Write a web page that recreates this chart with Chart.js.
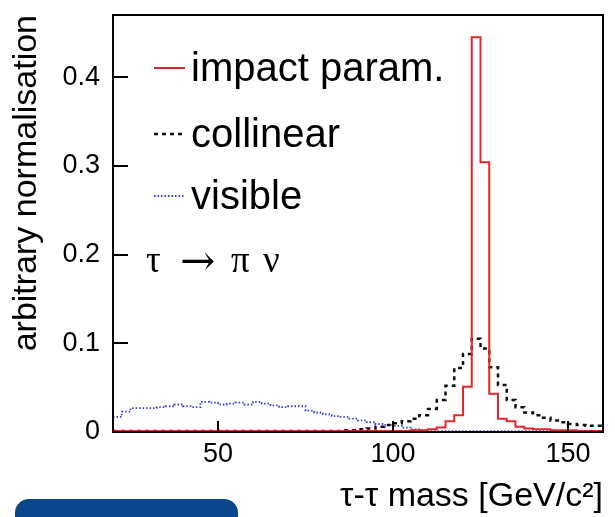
<!DOCTYPE html>
<html>
<head>
<meta charset="utf-8">
<script src="https://cdn.jsdelivr.net/npm/chart.js@4"></script>
<style>
  body { margin: 0; background: #fff; }
  #wrap { width: 615px; height: 517px; position: relative; overflow: hidden; }
  #box { position: absolute; left: 15px; top: 499px; width: 223px; height: 40px; background: #0a468c; border-radius: 14px; }
</style>
</head>
<body>
<div id="wrap">
  <canvas id="massChart" width="615" height="517"></canvas>
  <div id="box"></div>
</div>
<script>
// bin edges of the tau-tau mass histograms (GeV/c^2)
const massEdges = [20, 22.5, 25, 27.5, 30, 32.5, 35, 37.5, 40, 42.5, 45, 47.5, 50, 52.5, 55, 57.5,
    60, 62.5, 65, 67.5, 70, 72.5, 75, 77.5, 80, 82.5, 85, 87.5, 90, 92.5, 95, 97.5,
    100, 102.5, 105, 107.5, 110, 112.5, 115, 117.5, 120, 122.5, 125, 127.5, 130, 132.5, 135, 137.5,
    140, 142.5, 145, 147.5, 150, 152.5, 155, 157.5, 160];

const impactParam = [0.001, 0.001, 0.001, 0.001, 0.001, 0.001, 0.001, 0.001, 0.001, 0.001, 0.001, 0.001, 0.001, 0.001, 0.001, 0.001,
    0.001, 0.001, 0.001, 0.001, 0.001, 0.001, 0.001, 0.001, 0.001, 0.001, 0.001, 0.001, 0.001, 0.001, 0.001, 0.001,
    0.001, 0.001, 0.002, 0.002, 0.003, 0.005, 0.012, 0.019, 0.051, 0.445, 0.304, 0.043, 0.015, 0.012, 0.006, 0.004,
    0.003, 0.003, 0.002, 0.002, 0.002, 0.001, 0.001, 0.001];

const collinear = [0.001, 0.001, 0.001, 0.001, 0.001, 0.001, 0.001, 0.001, 0.001, 0.001, 0.001, 0.001, 0.001, 0.001, 0.001, 0.001,
    0.001, 0.001, 0.001, 0.001, 0.001, 0.001, 0.001, 0.001, 0.001, 0.001, 0.002, 0.002, 0.003, 0.004, 0.006, 0.008,
    0.010, 0.012, 0.015, 0.019, 0.026, 0.036, 0.052, 0.072, 0.088, 0.105, 0.094, 0.073, 0.053, 0.036, 0.028, 0.022,
    0.019, 0.016, 0.013, 0.011, 0.009, 0.008, 0.007, 0.007];

const visible = [0.017, 0.023, 0.027, 0.027, 0.027, 0.028, 0.029, 0.031, 0.029, 0.028, 0.034, 0.033, 0.031, 0.032, 0.033, 0.031,
    0.034, 0.032, 0.030, 0.028, 0.029, 0.029, 0.024, 0.022, 0.020, 0.018, 0.017, 0.015, 0.013, 0.011, 0.009, 0.008,
    0.007, 0.005, 0.003, 0.002, 0.001, 0.001, 0.001, 0.001, 0.001, 0.001, 0.001, 0.001, 0.001, 0.001, 0.001, 0.001,
    0.001, 0.001, 0.001, 0.001, 0.001, 0.001, 0.001, 0.001];

const yTicks = [0, 0.1, 0.2, 0.3, 0.4];
const xTicks = [50, 100, 150];

// histogram as step line: one point per low edge, plus the closing edge
function histPoints(values) {
    const pts = values.map((v, i) => ({ x: massEdges[i], y: v }));
    pts.push({ x: massEdges[massEdges.length - 1], y: values[values.length - 1] });
    return pts;
}

const sans = "'Liberation Sans', Arial, sans-serif";
const serif = "'Liberation Serif', 'Times New Roman', serif";

const frameAndLegend = {
    id: 'frameAndLegend',
    afterDatasetsDraw(chart) {
        const ctx = chart.ctx;
        const a = chart.chartArea;
        const xs = chart.scales.x, ys = chart.scales.y;
        ctx.save();
        ctx.strokeStyle = '#000';
        ctx.lineWidth = 2;
        ctx.strokeRect(a.left, a.top, a.right - a.left, a.bottom - a.top);
        // inward tick marks
        ctx.beginPath();
        ys.ticks.forEach(t => {
            const py = Math.round(ys.getPixelForValue(t.value));
            ctx.moveTo(a.left, py);
            ctx.lineTo(a.left + 15, py);
        });
        xs.ticks.forEach(t => {
            const px = Math.round(xs.getPixelForValue(t.value));
            ctx.moveTo(px, a.bottom);
            ctx.lineTo(px, a.bottom - 11);
        });
        ctx.stroke();

        // legend inside the frame
        const rows = [66, 132, 194];
        ctx.font = '40px ' + sans;
        ctx.textBaseline = 'alphabetic';
        chart.data.datasets.forEach((ds, i) => {
            const y = a.top + rows[i];
            ctx.beginPath();
            ctx.strokeStyle = ds.borderColor;
            ctx.lineWidth = ds.borderWidth;
            ctx.setLineDash(ds.borderDash || []);
            ctx.moveTo(a.left + 41, y - 13);
            ctx.lineTo(a.left + 72, y - 13);
            ctx.stroke();
            ctx.setLineDash([]);
            ctx.fillStyle = '#000';
            ctx.fillText(ds.label, a.left + 78, y);
        });
        // decay channel label
        ctx.font = '37px ' + serif;
        ctx.fillText('\u03c4', a.left + 33, a.top + 257);
        ctx.fillText('\u03c0', a.left + 118, a.top + 257);
        ctx.fillText('\u03bd', a.left + 150, a.top + 257);
        ctx.font = "42px 'DejaVu Serif', serif";
        ctx.fillText('\u2192', a.left + 67, a.top + 260);
        ctx.restore();
    }
};

const massCtx = document.getElementById('massChart').getContext('2d');
const massChart = new Chart(massCtx, {
    type: 'line',
    data: {
        datasets: [
            {
                label: 'impact param.',
                data: histPoints(impactParam),
                borderColor: '#e3262c',
                borderWidth: 2,
                stepped: true,
                pointRadius: 0,
                fill: false
            },
            {
                label: 'collinear',
                data: histPoints(collinear),
                borderColor: '#111',
                borderWidth: 2.5,
                borderDash: [4, 4],
                stepped: true,
                pointRadius: 0,
                fill: false
            },
            {
                label: 'visible',
                data: histPoints(visible),
                borderColor: '#3a3ad0',
                borderWidth: 1.8,
                borderDash: [1.5, 2],
                stepped: true,
                pointRadius: 0,
                fill: false
            }
        ]
    },
    options: {
        responsive: false,
        animation: false,
        layout: { padding: { left: 0, right: 12, top: 15, bottom: 0 } },
        plugins: { legend: { display: false }, tooltip: { enabled: false } },
        scales: {
            x: {
                type: 'linear',
                min: 20,
                max: 160,
                afterFit: s => { s.height = 85; s.paddingLeft = 0; s.paddingRight = 0; },
                afterBuildTicks: s => { s.ticks = xTicks.map(v => ({ value: v })); },
                grid: { display: false, drawTicks: false },
                border: { display: false },
                ticks: { padding: 9, color: '#000', font: { family: sans, size: 27, lineHeight: 1 } },
                title: {
                    display: true,
                    text: '\u03c4-\u03c4 mass [GeV/c\u00b2]',
                    align: 'end',
                    color: '#000',
                    font: { family: sans, size: 34 },
                    padding: { top: 0, bottom: 0 }
                }
            },
            y: {
                type: 'linear',
                min: 0,
                max: 0.47,
                afterFit: s => { s.width = 113; s.paddingTop = 0; s.paddingBottom = 0; },
                afterBuildTicks: s => { s.ticks = yTicks.map(v => ({ value: v })); },
                grid: { display: false, drawTicks: false },
                border: { display: false },
                ticks: {
                    padding: 13,
                    color: '#000',
                    font: { family: sans, size: 27, lineHeight: 1 },
                    callback: v => (v === 0 ? '0' : v.toFixed(1))
                },
                title: {
                    display: true,
                    text: 'arbitrary normalisation',
                    align: 'end',
                    color: '#000',
                    font: { family: sans, size: 34 },
                    padding: { top: 6, bottom: 0 }
                }
            }
        }
    },
    plugins: [frameAndLegend]
});
</script>
</body>
</html>
